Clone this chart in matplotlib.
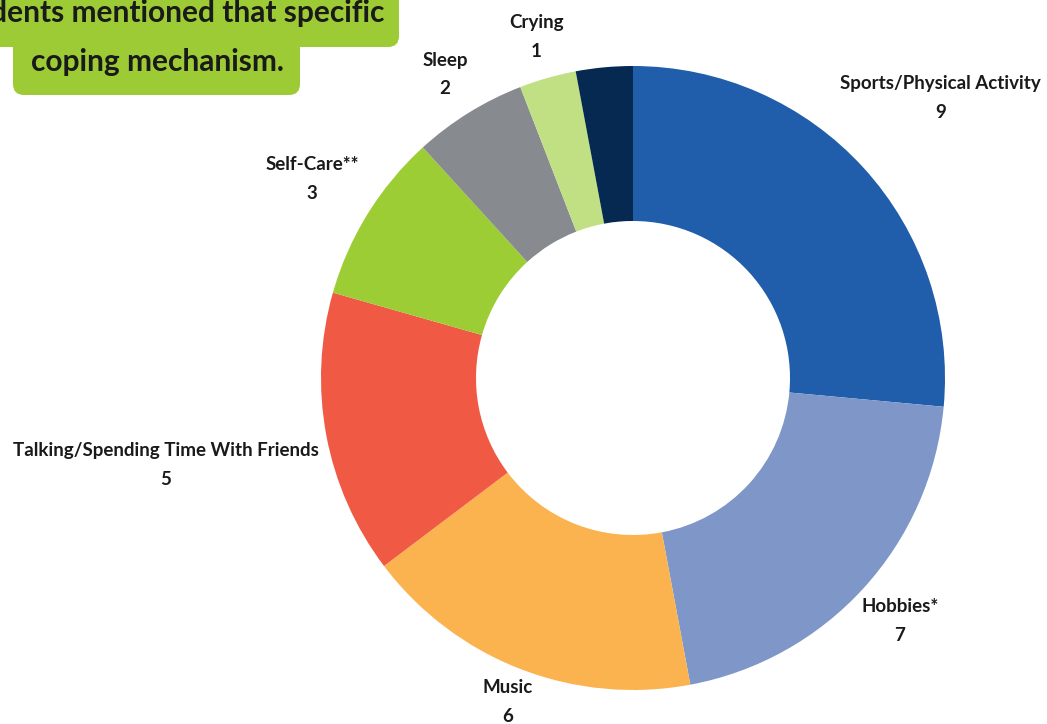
import matplotlib
matplotlib.use("Agg")
import matplotlib.pyplot as plt
import numpy as np
from matplotlib.patches import FancyBboxPatch

# Coping mechanisms and how many students mentioned each
categories = ["Sports/Physical Activity", "Hobbies*", "Music",
              "Talking/Spending Time With Friends", "Self-Care**",
              "Sleep", "Crying", ""]
counts = [9, 7, 6, 5, 3, 2, 1, 1]
colors = ["#205dab", "#7f96c8", "#fbb34f", "#f05a45", "#9dcd35",
          "#878a8e", "#c0e083", "#062951"]

title_lines = ["students mentioned that specific", "coping mechanism."]

# label distance from the ring centre, in units of the outer radius
label_dist = [1.333, 1.157, 1.114, 1.523, 1.21, 1.144, 1.135, 1.1]

W, H = 1047, 724
fig = plt.figure(figsize=(W / 100, H / 100), dpi=100)
ax = fig.add_axes([0, 0, 1, 1])

cx, cy, R = 633, 346, 312
ring = 155

wedges, _ = ax.pie(counts, colors=colors, startangle=90, counterclock=False,
                   center=(cx, cy), radius=R,
                   wedgeprops=dict(width=ring, linewidth=0))

txt_color = "#1a1a1a"
font = "Lato"
for w, name, n, d in zip(wedges, categories, counts, label_dist):
    if not name:
        continue
    ang = np.deg2rad((w.theta1 + w.theta2) / 2)
    x = cx + d * R * np.cos(ang)
    y = cy + d * R * np.sin(ang)
    ax.text(x, y, f"{name}\n{n}", ha="center", va="center",
            fontsize=13.5, fontweight="bold", family=font, color=txt_color,
            linespacing=1.85)

# Rounded green caption box in the top-left corner
green = "#9dcb35"
box1 = FancyBboxPatch((-40, 677), 439, 80,
                      boxstyle="round,pad=0,rounding_size=11",
                      fc=green, ec="none")
box2 = FancyBboxPatch((13, 629), 287, 80,
                      boxstyle="round,pad=0,rounding_size=11",
                      fc=green, ec="none")
ax.add_patch(box1)
ax.add_patch(box2)
ax.text(384, 711, title_lines[0], ha="right", va="center", fontsize=21.5,
        fontweight="bold", family=font, color=txt_color)
ax.text(157, 662, title_lines[1], ha="center", va="center", fontsize=21.5,
        fontweight="bold", family=font, color=txt_color)

ax.set_xlim(0, W)
ax.set_ylim(0, H)
ax.set_aspect("auto")
ax.axis("off")

fig.savefig("out.png", dpi=100, facecolor="white")
